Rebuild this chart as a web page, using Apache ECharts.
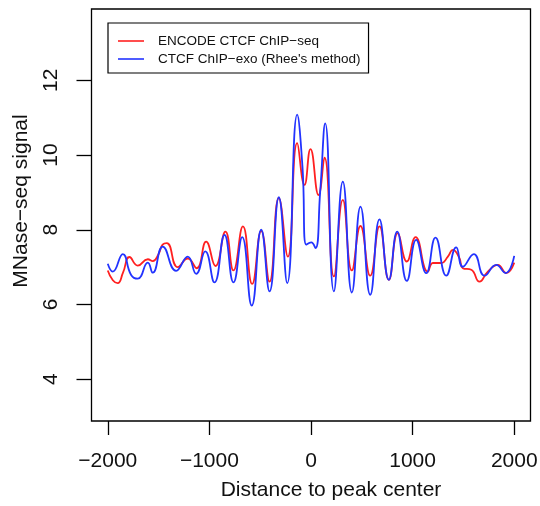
<!DOCTYPE html>
<html>
<head>
<meta charset="utf-8">
<script src="https://cdn.jsdelivr.net/npm/echarts@6/dist/echarts.min.js"></script>
<style>
html,body{margin:0;padding:0;background:#fff;}
#chart{width:540px;height:506px;}
</style>
</head>
<body>
<div id="chart"></div>
<script>
// ---- data ----
var seriesNames = ['ENCODE CTCF ChIP\u2212seq', 'CTCF ChIP\u2212exo (Rhee\'s method)'];
var xTicks = [-2000, -1000, 0, 1000, 2000];
var yTicks = [4, 6, 8, 10, 12];

var redX = [-2000,-1950,-1902,-1850,-1786,-1705,-1606,-1557,-1500,-1460,-1419,-1311,-1213,-1124,-1032,-940,-842,-763,-670,-579,-490,-408,-317,-228,-136,-64,-5,74,133,225,313,402,487,583,674,766,854,943,1029,1150,1199,1281,1347,1396,1461,1494,1577,1658,1740,1839,1920,2000];
var redY = [6.91,6.65,6.57,6.85,7.27,7.04,7.21,7.16,7.35,7.60,7.64,7.00,7.23,6.97,7.68,7.03,7.95,6.91,8.09,6.55,7.97,6.61,8.85,7.28,10.32,9.20,10.16,8.93,9.93,6.75,8.80,6.91,8.10,6.77,8.09,6.66,7.91,7.15,7.80,6.88,7.11,7.11,7.28,7.46,7.24,6.97,6.93,6.61,6.88,7.06,6.84,7.12];

var blueX = [-2000,-1951,-1852,-1770,-1705,-1606,-1557,-1459,-1327,-1213,-1130,-1041,-950,-851,-763,-677,-583,-490,-408,-317,-234,-136,-84,-47,2,44,90,140,225,313,402,487,583,674,766,848,943,1035,1134,1225,1331,1429,1494,1602,1708,1823,1914,2000];
var blueY = [7.09,6.88,7.35,6.79,6.69,7.12,6.85,7.55,6.90,7.28,6.82,7.42,6.59,7.86,6.59,7.80,5.97,8.00,6.35,8.87,6.57,11.08,9.69,7.60,7.66,7.51,9.00,10.85,6.35,9.29,6.32,8.62,6.26,8.28,6.66,7.95,6.63,7.73,6.84,7.79,6.77,7.53,7.01,7.35,6.77,7.06,6.84,7.30];

function pairs(xs, ys){ return xs.map(function(x,i){ return [x, ys[i]]; }); }
function fmt(v){ return v < 0 ? '\u2212' + Math.abs(v) : String(v); }

var FONT = '"Liberation Sans", Arial, Helvetica, sans-serif';
var chart = echarts.init(document.getElementById('chart'), null, {renderer:'canvas'});
chart.setOption({
  animation: false,
  backgroundColor: '#ffffff',
  textStyle: {fontFamily: FONT},
  grid: {left: 91.5, top: 9, width: 439, height: 412, show: true, borderColor: '#000', borderWidth: 1.3, backgroundColor: 'transparent', containLabel: false, outerBoundsMode: 'none'},
  legend: {
    left: 108, top: 23, orient: 'vertical',
    data: seriesNames,
    icon: 'rect', itemWidth: 26, itemHeight: 1.6, itemGap: 4,
    borderColor: '#000', borderWidth: 1.2,
    padding: [11, 8, 7, 10],
    textStyle: {fontFamily: FONT, fontSize: 13.5, color: '#111', padding: [0,0,0,9]}
  },
  xAxis: {
    type: 'value', min: -2160, max: 2160,
    splitLine: {show: false},
    axisLine: {show: false, onZero: false},
    axisTick: {show: true, customValues: xTicks, length: 14, lineStyle: {color: '#000', width: 1.3}},
    axisLabel: {customValues: xTicks, formatter: fmt, fontSize: 21, color: '#111', margin: 30, fontFamily: FONT},
    name: 'Distance to peak center', nameLocation: 'middle', nameGap: 59,
    nameTextStyle: {fontSize: 21, color: '#111', fontFamily: FONT, padding: [0,0,0,40]}
  },
  yAxis: {
    type: 'value', min: 2.88, max: 13.91,
    splitLine: {show: false},
    axisLine: {show: false, onZero: false},
    axisTick: {show: true, customValues: yTicks, length: 15, lineStyle: {color: '#000', width: 1.3}},
    axisLabel: {customValues: yTicks, rotate: 90, fontSize: 21, color: '#111', margin: 30, fontFamily: FONT},
    name: 'MNase\u2212seq signal', nameLocation: 'middle', nameGap: 60, nameMoveOverlap: false,
    nameTextStyle: {fontSize: 21, color: '#111', fontFamily: FONT, padding: [0,0,0,28]}
  },
  series: [
    {name: seriesNames[0], type: 'line', data: pairs(redX, redY), smooth: 0.5, showSymbol: false, lineStyle: {color: '#ff2020', width: 1.8}, itemStyle: {color: '#ff2020'}, z: 2},
    {name: seriesNames[1], type: 'line', data: pairs(blueX, blueY), smooth: 0.5, showSymbol: false, lineStyle: {color: '#2233ff', width: 1.8}, itemStyle: {color: '#2233ff'}, z: 3}
  ]
});
</script>
</body>
</html>
